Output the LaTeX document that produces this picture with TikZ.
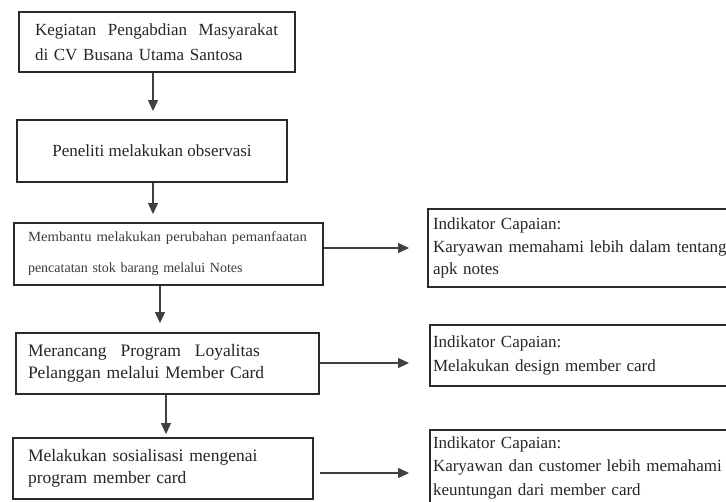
\documentclass[tikz,border=0pt]{standalone}
\usepackage{fontspec}
\usepackage{graphicx}
\setmainfont{Liberation Serif}
\usetikzlibrary{arrows.meta,calc}
\definecolor{ink}{HTML}{262626}
\definecolor{softink}{HTML}{3C3C3C}
\definecolor{frame}{HTML}{2A2A2A}
\definecolor{arrowc}{HTML}{404040}
\begin{document}
\begin{tikzpicture}[x=1pt,y=-1pt,
  box/.style={draw=frame,line width=1.9pt,inner sep=0pt,text=ink,fill=white},
  arr/.style={draw=arrowc,line width=1.1pt,-{Triangle[length=11pt,width=10pt]}},
]
\clip (0,0) rectangle (726,501);
\fill[white] (0,0) rectangle (726,501);

% left column
\node[box, minimum width=276pt, minimum height=60pt, text width=244pt, align=left,
      font=\fontsize{17}{25}\selectfont] (b1) at (157,42)
  {\makebox[243pt][l]{Kegiatan\hfill Pengabdian\hfill Masyarakat}\\di CV Busana Utama Santosa};

\node[box, minimum width=270pt, minimum height=62pt, align=center,
      font=\fontsize{17}{25}\selectfont] (b2) at (152,151)
  {Peneliti melakukan observasi};

\node[box, minimum width=309pt, minimum height=62pt, text width=281pt, align=left,
      text=softink, font=\fontsize{14}{31}\selectfont] (b3) at (168.5,254)
  {\resizebox{279pt}{\height}{Membantu melakukan perubahan pemanfaatan}\\pencatatan stok barang melalui Notes};

\node[box, minimum width=303pt, minimum height=61pt, text width=279pt, align=left,
      font=\fontsize{17.5}{22}\selectfont] (b4) at (167.5,363.5)
  {\makebox[232pt][l]{Merancang\hfill Program\hfill Loyalitas}\\Pelanggan melalui Member Card};

\node[box, minimum width=300pt, minimum height=61pt, text width=270pt, align=left,
      font=\fontsize{17.5}{22}\selectfont] (b5) at (163,468.5)
  {Melakukan sosialisasi mengenai\\program member card};

% right column
\node[box, minimum width=332pt, minimum height=78pt, text width=322pt, align=left,
      font=\fontsize{17}{22.5}\selectfont] (r1) at (594,248)
  {Indikator Capaian:\\Karyawan memahami lebih dalam tentang\\apk notes};

\node[box, minimum width=330pt, minimum height=61pt, text width=324pt, align=left,
      font=\fontsize{17}{24}\selectfont] (r2) at (595,355.5)
  {Indikator Capaian:\\Melakukan design member card};

\node[box, minimum width=330pt, minimum height=75pt, text width=324pt, align=left,
      font=\fontsize{17}{23.5}\selectfont] (r3) at (595,467.5)
  {Indikator Capaian:\\Karyawan dan customer lebih memahami\\keuntungan dari member card};

% guide coordinates
\coordinate (c1) at (153,0);
\coordinate (c3) at (160,0);
\coordinate (c4) at (166,0);
\coordinate (h1) at (0,248);
\coordinate (h2) at (0,363);
\coordinate (h3) at (0,473);

% vertical arrows
\draw[arr, shorten >=8pt] (b1.south -| c1) -- (b2.north -| c1);
\draw[arr, shorten >=8pt] (b2.south -| c1) -- (b3.north -| c1);
\draw[arr, shorten >=9pt] (b3.south -| c3) -- (b4.north -| c3);
\draw[arr, shorten >=3pt] (b4.south -| c4) -- (b5.north -| c4);

% horizontal arrows
\draw[arr, shorten >=18pt] (b3.east |- h1) -- (r1.west |- h1);
\draw[arr, shorten >=20pt] (b4.east |- h2) -- (r2.west |- h2);
\draw[arr, shorten <=6pt, shorten >=20pt] (b5.east |- h3) -- (r3.west |- h3);
\end{tikzpicture}
\end{document}
